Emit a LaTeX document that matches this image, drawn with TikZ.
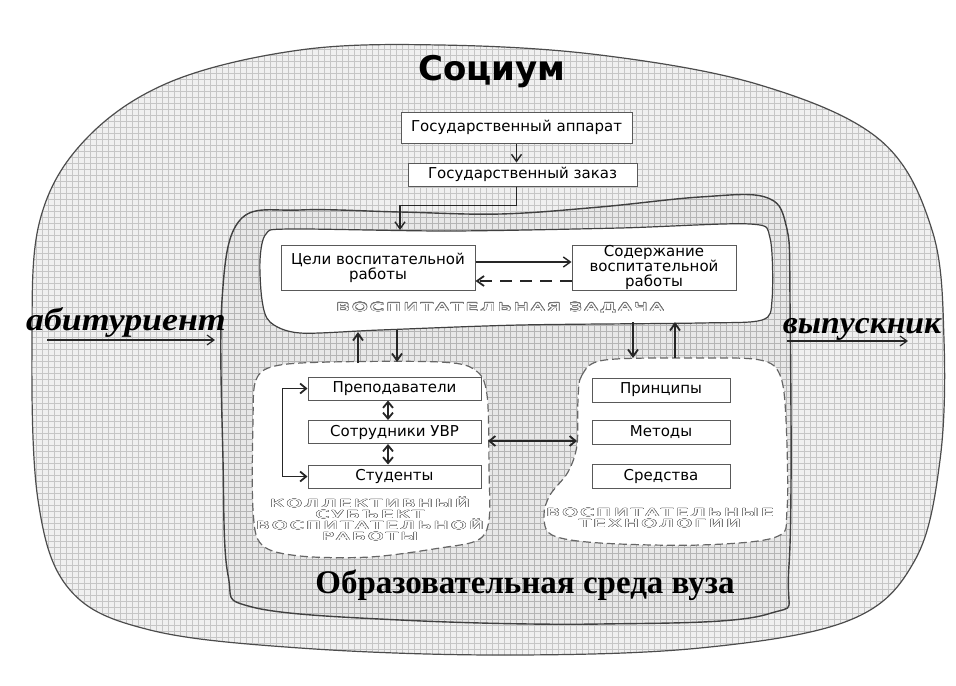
\documentclass[tikz,border=0pt]{standalone}
\usepackage{fontspec}
\setmainfont{DejaVu Sans}
\newfontfamily\serifF{Liberation Serif}
\newfontfamily\wideF[LetterSpace=12]{DejaVu Sans}
\usepackage{contour}
\contourlength{0.15pt}
\contournumber{24}
\usetikzlibrary{arrows.meta,patterns}
\newcommand\hollow[1]{\scalebox{1.8}[1]{\contour{black!55}{#1}}}
\begin{document}
\begin{tikzpicture}[x=0.5pt,y=-0.5pt,
  box/.style={draw=black!65, line width=0.5pt, fill=white, inner sep=0pt, align=center,
    font=\fontsize{7.5}{7.6}\selectfont},
  arr/.style={-{Straight Barb[length=3.5pt,width=5pt]}, line width=0.7pt, black!85},
  darr/.style={{Straight Barb[length=3pt,width=5pt]}-{Straight Barb[length=3pt,width=5pt]}, line width=0.9pt, black!85},
  dblob/.style={draw=black!60, line width=0.6pt, dash pattern=on 4pt off 2pt, fill=white},
  hlabel/.style={text=white, align=center, font=\wideF\fontsize{5.5}{5.5}\selectfont, inner sep=0pt},
]
\useasboundingbox (0,0) rectangle (956,685);
\fill[white] (0,0) rectangle (956,685);

% Socium (outer area)
\draw[line width=0.6pt, black!70, preaction={fill=gray!12}, pattern=grid, pattern color=gray!45]
  plot[smooth cycle, tension=0.6] coordinates {(32,340) (40,220) (85,140) (170,82) (300,50) (440,45)
  (600,55) (760,85) (880,140) (932,230) (944,340) (940,460) (915,560) (850,620) (700,648) (500,655)
  (300,648) (150,630) (70,590) (38,500)};

% educational environment
\draw[line width=0.7pt, black!75, preaction={fill=gray!18}, pattern=grid, pattern color=gray!58]
  plot[smooth cycle, tension=0.6] coordinates {(222,300) (223,460) (228,575) (252,607) (400,620)
  (600,624) (768,614) (789,565) (790,300) (786,225) (765,197) (700,197) (600,207) (500,214)
  (400,212) (300,210) (240,220)};

% educational task (white)
\draw[line width=0.6pt, black!75, fill=white]
  plot[smooth cycle, tension=0.5] coordinates {(260,260) (266,234) (290,229) (450,231) (620,228)
  (750,224) (770,238) (772,300) (762,320) (700,323) (520,325) (380,330) (300,333) (270,322) (262,300)};

% collective subject (dashed)
\draw[dblob] plot[smooth cycle, tension=0.55] coordinates {(253,420) (256,380) (275,366) (330,362)
  (440,362) (475,370) (487,395) (489,470) (489,520) (478,540) (440,548) (370,557) (300,556)
  (262,545) (253,510)};

% technologies (dashed)
\draw[dblob] plot[smooth cycle, tension=0.55] coordinates {(578,400) (582,375) (605,360) (700,358)
  (760,360) (780,375) (786,420) (787,510) (776,537) (700,545) (600,543) (552,535) (544,515)
  (550,495) (568,472) (577,445)};

% titles
\node[font=\bfseries\fontsize{17}{17}\selectfont, anchor=base, inner sep=0pt] (socium) at (492,80) {Социум};
\node[font=\serifF\bfseries\fontsize{16.5}{16.5}\selectfont, anchor=base, inner sep=0pt] (envlab) at (525,593) {Образовательная среда вуза};

% state boxes
\node[box, minimum width=115.5pt, minimum height=15.5pt] (app) at (516.5,127.5) {Государственный аппарат};
\node[box, minimum width=114.5pt, minimum height=11.5pt] (zak) at (522.5,174.5) {Государственный заказ};
\coordinate (ztop) at (400,230);
\draw[arr] (app.south) -- (app.south |- zak.north);
\draw[arr] (zak.south -| app.south) -- ++(0,19) -| (ztop);

% task content
\node[box, minimum width=97pt, minimum height=22.5pt] (celi) at (378,267.5) {Цели воспитательной\\работы};
\node[box, minimum width=82pt, minimum height=22.5pt] (soder) at (654,267.5) {Содержание\\воспитательной\\работы};
\draw[arr] ([yshift=2.75pt]celi.east) -- ([yshift=2.75pt]soder.west);
\draw[arr, dash pattern=on 6pt off 4pt, line width=0.9pt] ([yshift=-6.75pt]soder.west) -- ([yshift=-6.75pt]celi.east);
\node[hlabel] (zlab) at (500,308) {\hollow{ВОСПИТАТЕЛЬНАЯ ЗАДАЧА}};

% collective subject
\node[box, minimum width=86.5pt, minimum height=11.5pt] (prep) at (394.5,388.5) {Преподаватели};
\node[box, minimum width=86.5pt, minimum height=11.5pt] (sotr) at (394.5,432) {Сотрудники УВР};
\node[box, minimum width=86.5pt, minimum height=11.5pt] (stud) at (394.5,476.5) {Студенты};
\draw[darr] ([xshift=-3.25pt]prep.south) -- ([xshift=-3.25pt]sotr.north);
\draw[darr] ([xshift=-3.25pt]sotr.south) -- ([xshift=-3.25pt]stud.north);
\draw[darr] (prep.west) -- ++(-25,0) |- (stud.west);
\node[hlabel] (klab) at (370,519) {\hollow{КОЛЛЕКТИВНЫЙ}\\\hollow{СУБЪЕКТ}\\\hollow{ВОСПИТАТЕЛЬНОЙ}\\\hollow{РАБОТЫ}};

% technologies
\node[box, minimum width=69pt, minimum height=12pt] (princ) at (661,390) {Принципы};
\node[box, minimum width=69pt, minimum height=12pt] (metod) at (661,432.5) {Методы};
\node[box, minimum width=69pt, minimum height=12pt] (sred) at (661,476.5) {Средства};
\node[hlabel] (tlab) at (660,518) {\hollow{ВОСПИТАТЕЛЬНЫЕ}\\\hollow{ТЕХНОЛОГИИ}};

% links between areas
\coordinate (lbE) at (488,441);
\coordinate (rbW) at (577,441);
\draw[darr] (lbE) -- (rbW);
\coordinate (zb1) at (358,332); \coordinate (lt1) at (358,363);
\coordinate (zb2) at (397,330); \coordinate (lt2) at (397,362);
\coordinate (zb3) at (633,322); \coordinate (rt3) at (633,358);
\coordinate (zb4) at (675,322); \coordinate (rt4) at (675,358);
\draw[arr, line width=0.9pt] (lt1) -- (zb1);
\draw[arr, line width=0.9pt] (zb2) -- (lt2);
\draw[arr, line width=0.9pt] (zb3) -- (rt3);
\draw[arr, line width=0.9pt] (rt4) -- (zb4);

% entrant / graduate
\node[font=\serifF\bfseries\itshape\fontsize{16}{16}\selectfont, anchor=base, inner sep=0pt] (abit) at (126,330) {\scalebox{1.12}[1]{абитуриент}};
\node[font=\serifF\bfseries\itshape\fontsize{16}{16}\selectfont, anchor=base, inner sep=0pt] (vyp) at (862,333) {\scalebox{1.05}[1]{выпускник}};
\coordinate (a1) at (47,340); \coordinate (a2) at (215,340);
\coordinate (v1) at (787,341); \coordinate (v2) at (908,341);
\draw[arr, line width=0.6pt] (a1) -- (a2);
\draw[arr, line width=0.6pt] (v1) -- (v2);
\end{tikzpicture}
\end{document}
